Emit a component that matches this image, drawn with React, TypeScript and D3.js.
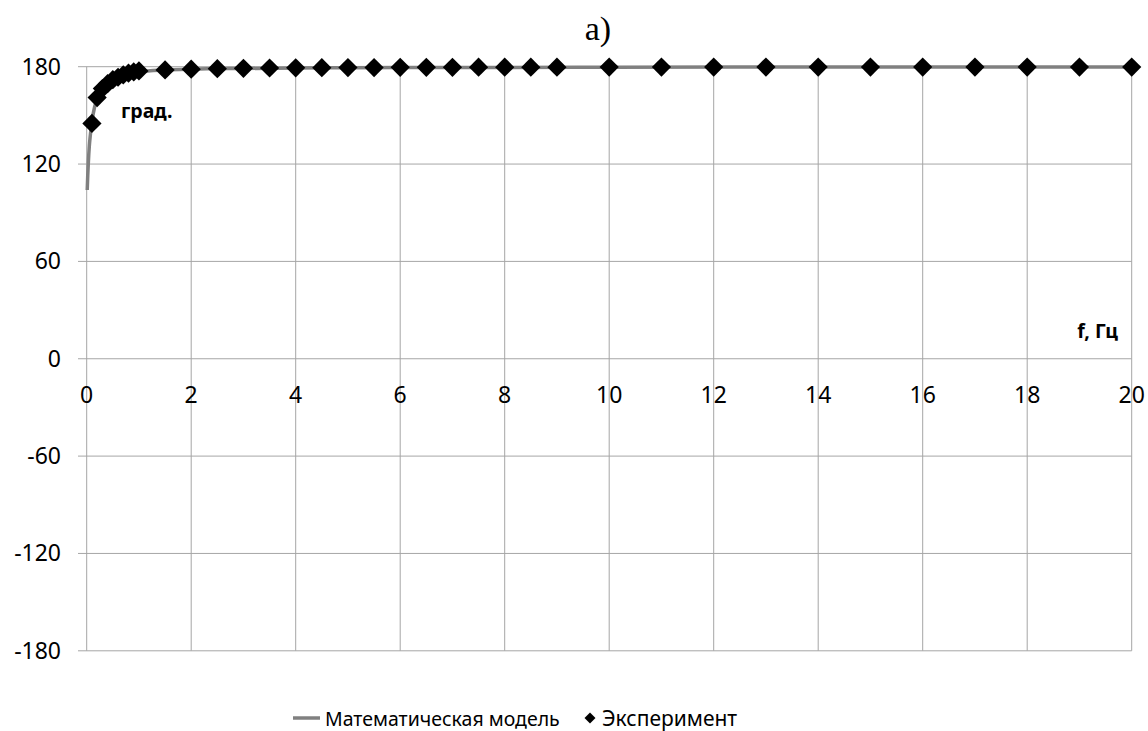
import React from "react";
import * as d3 from "d3";

// Frequency response: phase (degrees) versus frequency f (Hz)
const modelFreq = [0.01, 0.02, 0.03, 0.05, 0.07, 0.1, 0.15, 0.2, 0.3, 0.4, 0.5, 0.6, 0.7, 0.8, 0.9, 1, 1.5, 2, 3, 4, 5, 7, 9.4, 10, 15, 20];
const modelPhase = [104, 113, 120, 131, 138, 146, 155, 160, 166, 169.5, 171.8, 173.4, 174.6, 175.6, 176.3, 176.9, 178, 178.5, 178.9, 179.2, 179.4, 179.5, 179.6, 179.7, 179.8, 179.8];

const expFreq = [0.1, 0.2, 0.3, 0.4, 0.5, 0.6, 0.7, 0.8, 0.9, 1.0, 1.5, 2, 2.5, 3, 3.5, 4, 4.5, 5, 5.5, 6, 6.5, 7, 7.5, 8, 8.5, 9, 10, 11, 12, 13, 14, 15, 16, 17, 18, 19, 20];
const expPhase = [145, 161, 166.5, 169.5, 172, 173.5, 175, 176, 176.8, 177.4, 178, 178.5, 178.8, 179, 179.2, 179.3, 179.4, 179.5, 179.5, 179.6, 179.6, 179.6, 179.7, 179.7, 179.7, 179.7, 179.8, 179.8, 179.8, 179.8, 179.8, 179.8, 179.8, 179.8, 179.8, 179.8, 179.8];

const xTicks = [0, 2, 4, 6, 8, 10, 12, 14, 16, 18, 20];
const yTicks = [-180, -120, -60, 0, 60, 120, 180];

const seriesNames = ["Математическая модель", "Эксперимент"];

const W = 1148;
const H = 731;
const FONT = "'Noto Sans', 'Open Sans', sans-serif";

export default function App() {
  const x = d3.scaleLinear().domain([0, 20]).range([86.7, 1131.7]);
  const y = d3.scaleLinear().domain([-180, 180]).range([650.8, 66.7]);

  const modelPts: [number, number][] = modelFreq.map((f, i) => [f, modelPhase[i]]);
  const line = d3
    .line<[number, number]>()
    .x((d) => x(d[0]))
    .y((d) => y(d[1]))
    .curve(d3.curveMonotoneX);

  const diamond = d3.symbol().type(d3.symbolSquare).size(185)();
  const legendDiamond = d3.symbol().type(d3.symbolSquare).size(60)();

  const gridColor = "#a6a6a6";

  return (
    <svg width={W} height={H} style={{ position: "absolute", left: 0, top: 0 }}>
      <rect x={0} y={0} width={W} height={H} fill="#ffffff" />
      {/* horizontal grid lines with left tick marks */}
      {yTicks.map((t) => (
        <line key={"h" + t} x1={78} x2={x(20)} y1={y(t)} y2={y(t)} stroke={gridColor} strokeWidth={1} />
      ))}
      {/* vertical grid lines */}
      {xTicks.map((t) => (
        <line key={"v" + t} x1={x(t)} x2={x(t)} y1={y(180)} y2={y(-180)} stroke={gridColor} strokeWidth={1} />
      ))}
      {/* y tick labels */}
      {yTicks.map((t) => (
        <text key={"yl" + t} x={61} y={y(t) + 8} textAnchor="end" fontFamily={FONT} fontSize={23} fill="#000">
          {t}
        </text>
      ))}
      {/* x tick labels */}
      {xTicks.map((t) => (
        <text key={"xl" + t} x={x(t)} y={y(0) + 44} textAnchor="middle" fontFamily={FONT} fontSize={23} fill="#000">
          {t}
        </text>
      ))}
      {/* model curve */}
      <path d={line(modelPts) || ""} fill="none" stroke="#808080" strokeWidth={3.5} strokeLinejoin="round" />
      {/* experimental points */}
      {expFreq.map((f, i) => (
        <path key={"e" + i} d={diamond || ""} transform={`translate(${x(f)},${y(expPhase[i])}) rotate(45)`} fill="#000" />
      ))}
      {/* axis titles */}
      <text x={121} y={118} fontFamily={FONT} fontSize={19.5} fontWeight="bold" fill="#000">
        град.
      </text>
      <text x={1118} y={338} textAnchor="end" fontFamily={FONT} fontSize={19.5} fontWeight="bold" fill="#000">
        f, Гц
      </text>
      {/* chart title */}
      <text x={598} y={40} textAnchor="middle" fontFamily="'Liberation Serif', 'Times New Roman', serif" fontSize={34} fill="#000">
        а)
      </text>
      {/* legend */}
      <line x1={293} x2={320} y1={718} y2={718} stroke="#808080" strokeWidth={3.5} />
      <text x={325} y={726} fontFamily={FONT} fontSize={19.5} fill="#000">
        {seriesNames[0]}
      </text>
      <path d={legendDiamond || ""} transform="translate(590,718) rotate(45)" fill="#000" />
      <text x={602} y={726} fontFamily={FONT} fontSize={21} fill="#000">
        {seriesNames[1]}
      </text>
    </svg>
  );
}
